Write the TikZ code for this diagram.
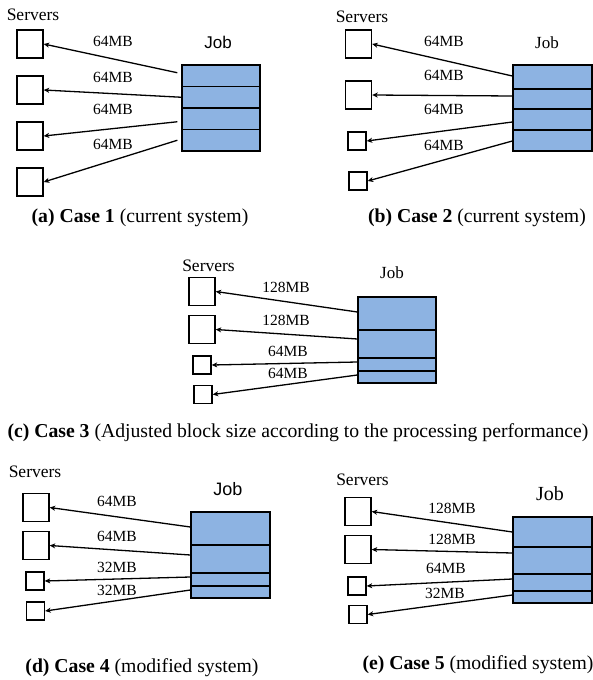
\documentclass[tikz,border=0pt]{standalone}
\usepackage{fontspec}
\setmainfont{Liberation Serif}
\newfontfamily\jobsans{Liberation Sans}
\usetikzlibrary{arrows.meta}
\definecolor{blockblue}{RGB}{141,179,226}
\tikzset{
  srvbig/.style={draw, line width=1.4pt, minimum width=26pt, minimum height=28pt, inner sep=0pt},
  srvsmall/.style={draw, line width=1.4pt, minimum width=18pt, minimum height=18pt, inner sep=0pt},
  seg/.style={draw, line width=1.3pt, fill=blockblue, minimum width=78pt, inner sep=0pt},
  arr/.style={line width=1.3pt, -{Stealth[length=5.5pt,width=5pt,inset=1.5pt]}},
  lbl/.style={font=\fontsize{15.5}{18}\selectfont, inner sep=0pt},
  srvlbl/.style={font=\fontsize{17.5}{20}\selectfont, inner sep=0pt},
  joblbl/.style={font=\fontsize{17}{20}\selectfont, inner sep=0pt},
  captext/.style={font=\fontsize{19.7}{22}\selectfont, inner sep=0pt}
}
\begin{document}
\begin{tikzpicture}[x=1pt,y=-1pt]
\useasboundingbox (0,0) rectangle (593,680);

% ---------- (a) Case 1 ----------
\node[srvlbl] (aS) at (33,15) {Servers};
\node[joblbl, font=\jobsans\fontsize{17}{20}\selectfont] (aJ) at (218,42) {Job};
\node[srvbig] (as1) at (30,44) {};
\node[srvbig] (as2) at (30,90) {};
\node[srvbig] (as3) at (30,136) {};
\node[srvbig] (as4) at (30,182) {};
\node[seg, minimum height=21.5pt] (aj1) at (221,75.75) {};
\node[seg, minimum height=21.5pt] (aj2) at (221,97.25) {};
\node[seg, minimum height=21.5pt] (aj3) at (221,118.75) {};
\node[seg, minimum height=21.5pt] (aj4) at (221,140.25) {};
\draw[arr] ([shift={(-4pt,3pt)}]aj1.west) -- (as1.east);
\draw[arr] (aj2.west) -- (as2.east);
\draw[arr] ([shift={(-4pt,-3pt)}]aj3.west) -- (as3.east);
\draw[arr] ([shift={(-4pt,0pt)}]aj4.west) -- (as4.east);
\node[lbl] (al1) at (113,41) {64MB};
\node[lbl] (al2) at (113,77) {64MB};
\node[lbl] (al3) at (113,109) {64MB};
\node[lbl] (al4) at (113,144) {64MB};
\node[captext] (acap) at (140,218) {\textbf{(a) Case 1} (current system)};

% ---------- (b) Case 2 ----------
\node[srvlbl] (bS) at (362,17) {Servers};
\node[joblbl] (bJ) at (547,43) {Job};
\node[srvbig] (bs1) at (358.5,44) {};
\node[srvbig] (bs2) at (358.5,95) {};
\node[srvsmall] (bs3) at (357,141) {};
\node[srvsmall] (bs4) at (358,181) {};
\node[seg, minimum width=79pt, minimum height=24pt] (bj1) at (552.5,77) {};
\node[seg, minimum width=79pt, minimum height=20pt] (bj2) at (552.5,99) {};
\node[seg, minimum width=79pt, minimum height=21pt] (bj3) at (552.5,119.5) {};
\node[seg, minimum width=79pt, minimum height=21pt] (bj4) at (552.5,140.5) {};
\draw[arr] ([yshift=1pt]bj1.west) -- (bs1.east);
\draw[arr] ([yshift=3pt]bj2.west) -- (bs2.east);
\draw[arr] ([yshift=-2.5pt]bj3.west) -- (bs3.east);
\draw[arr] ([yshift=-0.5pt]bj4.west) -- (bs4.east);
\node[lbl] (bl1) at (444,41) {64MB};
\node[lbl] (bl2) at (444,75) {64MB};
\node[lbl] (bl3) at (444,109) {64MB};
\node[lbl] (bl4) at (444,145) {64MB};
\node[captext] (bcap) at (477,218) {\textbf{(b) Case 2} (current system)};

% ---------- (c) Case 3 ----------
\node[srvlbl] (cS) at (208.5,266) {Servers};
\node[joblbl] (cJ) at (392,273) {Job};
\node[srvbig] (cs1) at (202,291.5) {};
\node[srvbig] (cs2) at (202,329.5) {};
\node[srvsmall] (cs3) at (202,365) {};
\node[srvsmall] (cs4) at (203,394.5) {};
\node[seg, minimum height=33pt] (cj1) at (397,313.5) {};
\node[seg, minimum height=28pt] (cj2) at (397,344) {};
\node[seg, minimum height=13pt] (cj3) at (397,364.5) {};
\node[seg, minimum height=12pt] (cj4) at (397,377) {};
\draw[arr] ([yshift=1.5pt]cj1.west) -- (cs1.east);
\draw[arr] ([yshift=5pt]cj2.west) -- (cs2.east);
\draw[arr] ([yshift=2.5pt]cj3.west) -- (cs3.east);
\draw[arr] ([yshift=2pt]cj4.west) -- (cs4.east);
\node[lbl] (cl1) at (286,287) {128MB};
\node[lbl] (cl2) at (286,320) {128MB};
\node[lbl] (cl3) at (288,351) {64MB};
\node[lbl] (cl4) at (288,373) {64MB};
\node[captext] (ccap) at (298,433) {\textbf{(c) Case 3} (Adjusted block size according to the processing performance)};

% ---------- (d) Case 4 ----------
\node[srvlbl] (dS) at (35,472) {Servers};
\node[joblbl, font=\jobsans\fontsize{18}{21}\selectfont] (dJ) at (228,489) {Job};
\node[srvbig] (ds1) at (36,507.5) {};
\node[srvbig] (ds2) at (36,545.5) {};
\node[srvsmall] (ds3) at (35,581) {};
\node[srvsmall] (ds4) at (35.5,611) {};
\node[seg, minimum width=79pt, minimum height=33pt] (dj1) at (230.5,528.5) {};
\node[seg, minimum width=79pt, minimum height=28pt] (dj2) at (230.5,559) {};
\node[seg, minimum width=79pt, minimum height=13pt] (dj3) at (230.5,579.5) {};
\node[seg, minimum width=79pt, minimum height=12pt] (dj4) at (230.5,592) {};
\draw[arr] ([yshift=1.5pt]dj1.west) -- (ds1.east);
\draw[arr] ([yshift=4pt]dj2.west) -- (ds2.east);
\draw[arr] ([yshift=2.5pt]dj3.west) -- (ds3.east);
\draw[arr] ([yshift=2pt]dj4.west) -- (ds4.east);
\node[lbl] (dl1) at (117,501) {64MB};
\node[lbl] (dl2) at (117,536) {64MB};
\node[lbl] (dl3) at (117,567) {32MB};
\node[lbl] (dl4) at (117,590) {32MB};
\node[captext] (dcap) at (142,668) {\textbf{(d) Case 4} (modified system)};

% ---------- (e) Case 5 ----------
\node[srvlbl] (eS) at (362.5,480) {Servers};
\node[joblbl, font=\fontsize{20}{23}\selectfont] (eJ) at (550,494) {Job};
\node[srvbig] (es1) at (358,511.5) {};
\node[srvbig] (es2) at (358,549.5) {};
\node[srvsmall] (es3) at (357,586) {};
\node[srvsmall] (es4) at (358,614.5) {};
\node[seg, minimum width=79pt, minimum height=30pt] (ej1) at (552.5,532) {};
\node[seg, minimum width=79pt, minimum height=27pt] (ej2) at (552.5,560.5) {};
\node[seg, minimum width=79pt, minimum height=17pt] (ej3) at (552.5,582.5) {};
\node[seg, minimum width=79pt, minimum height=12pt] (ej4) at (552.5,597) {};
\draw[arr] (ej1.west) -- (es1.east);
\draw[arr] ([yshift=7.5pt]ej2.west) -- (es2.east);
\draw[arr] ([yshift=3.5pt]ej3.west) -- (es3.east);
\draw[arr] ([yshift=2pt]ej4.west) -- (es4.east);
\node[lbl] (el1) at (452,508) {128MB};
\node[lbl] (el2) at (452,539) {128MB};
\node[lbl] (el3) at (446,568) {64MB};
\node[lbl] (el4) at (445,593) {32MB};
\node[captext] (ecap) at (478,665) {\textbf{(e) Case 5} (modified system)};
\end{tikzpicture}
\end{document}
